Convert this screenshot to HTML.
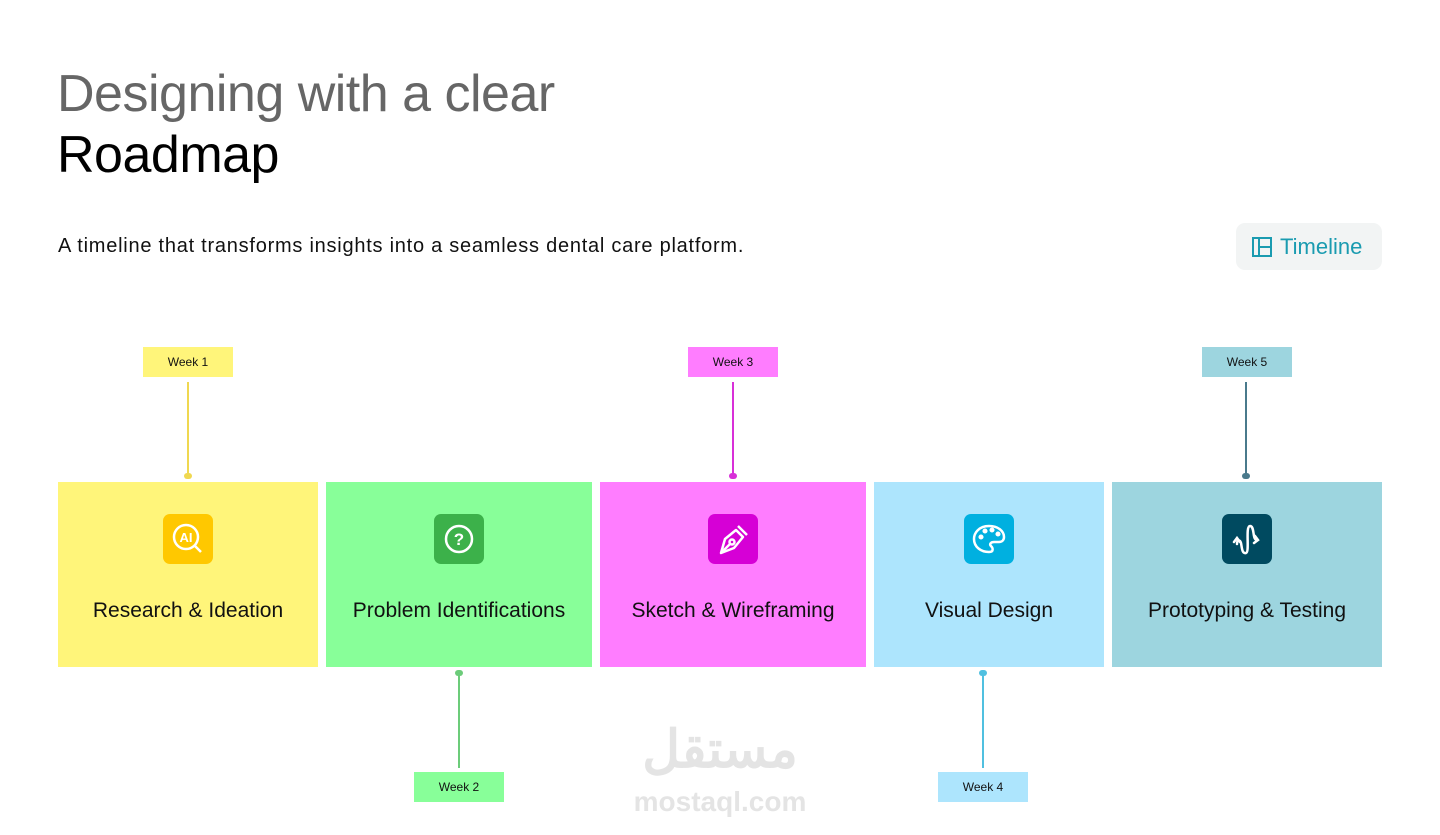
<!DOCTYPE html>
<html><head><meta charset="utf-8"><style>
*{margin:0;padding:0;box-sizing:border-box}
body{width:1440px;height:835px;background:#fff;position:relative;overflow:hidden;font-family:"Liberation Sans",sans-serif}
.a{position:absolute}
.h1{left:57px;top:64px;font-size:52px;color:#666;letter-spacing:-0.5px;white-space:nowrap}
.h2{left:57px;top:125px;font-size:52px;color:#000;letter-spacing:-0.5px}
.sub{left:58px;top:235px;font-size:20px;letter-spacing:0.75px;color:#111;white-space:nowrap}
.btn{left:1236px;top:223px;width:146px;height:47px;background:#f2f4f4;border-radius:9px;color:#1a9bb0;font-size:22px;line-height:47px;padding-left:44px}
.btn svg{position:absolute;left:16px;top:14px}
.box{top:482px;height:185px}
.ic{position:absolute;top:32px;width:50px;height:50px;border-radius:7px;left:50%;margin-left:-25px}
.ic svg{position:absolute;left:0;top:0}
.lb{position:absolute;top:117px;width:100%;text-align:center;font-size:21px;color:#111;white-space:nowrap}
.wk{width:90px;height:30px;font-size:12px;text-align:center;line-height:30px;color:#111}
.ln{width:2px}
.dot{width:8px;height:6px;border-radius:4px}
</style></head><body>
<div class="a h1">Designing with a clear</div>
<div class="a h2">Roadmap</div>
<div class="a sub">A timeline that transforms insights into a seamless dental care platform.</div>
<div class="a btn"><svg width="20" height="20" viewBox="0 0 20 20" fill="none" stroke="#1a9bb0" stroke-width="2"><rect x="1" y="1" width="18" height="18"/><line x1="7" y1="1" x2="7" y2="19"/><line x1="7" y1="10" x2="19" y2="10"/></svg>Timeline</div>

<div class="a box" style="left:58px;width:260px;background:#fff57a">
 <div class="ic" style="background:#ffc800"><svg width="50" height="50" fill="none" stroke="#fff" stroke-width="2.5"><circle cx="23" cy="23" r="12"/><line x1="31" y1="31" x2="38" y2="38"/><text x="23" y="28" font-size="13" font-weight="bold" fill="#fff" stroke="none" text-anchor="middle" font-family="Liberation Sans">AI</text></svg></div>
 <div class="lb">Research &amp; Ideation</div></div>
<div class="a box" style="left:326px;width:266px;background:#88ff99">
 <div class="ic" style="background:#3cb14a"><svg width="50" height="50" fill="none" stroke="#fff" stroke-width="2.5"><circle cx="25" cy="25" r="13"/><text x="25" y="31" font-size="17" font-weight="bold" fill="#fff" stroke="none" text-anchor="middle" font-family="Liberation Sans">?</text></svg></div>
 <div class="lb">Problem Identifications</div></div>
<div class="a box" style="left:600px;width:266px;background:#ff7dff">
 <div class="ic" style="background:#d600d6"><svg width="50" height="50" fill="none" stroke="#fff" stroke-width="2.5" stroke-linejoin="round"><path d="M13 39 L17 25 L28 16 L35 23 L26 34 Z"/><line x1="30" y1="12" x2="39" y2="21"/><circle cx="24" cy="28" r="2.5"/><line x1="13" y1="39" x2="22" y2="30"/></svg></div>
 <div class="lb">Sketch &amp; Wireframing</div></div>
<div class="a box" style="left:874px;width:230px;background:#ade5fd">
 <div class="ic" style="background:#00b0e0"><svg width="50" height="50" fill="none" stroke="#fff" stroke-width="2.5"><path d="M25 12 C15 12 10 19 10 25 C10 33 17 38 25 38 C30 38 29 34 27 32 C25 30 27 28 30 28 L35 28 C38 28 40 26 40 23 C40 17 34 12 25 12 Z"/><circle cx="17" cy="23" r="1.3" fill="#fff"/><circle cx="21" cy="17" r="1.3" fill="#fff"/><circle cx="28" cy="16" r="1.3" fill="#fff"/><circle cx="34" cy="20" r="1.3" fill="#fff"/></svg></div>
 <div class="lb">Visual Design</div></div>
<div class="a box" style="left:1112px;width:270px;background:#9dd5df">
 <div class="ic" style="background:#004a60"><svg width="50" height="50" fill="none" stroke="#fff" stroke-width="2.5" stroke-linecap="round"><path d="M15 30 C15 26 18 25 19 29 C20 34 20 40 24 39 C28 38 23 12 28 12 C33 12 30 26 35 26"/><path d="M12 28 L15 24 L18 28"/><path d="M33 22 L36 26 L32 29"/></svg></div>
 <div class="lb">Prototyping &amp; Testing</div></div>

<div class="a wk" style="left:143px;top:347px;background:#fff57a">Week 1</div>
<div class="a wk" style="left:688px;top:347px;background:#ff7dff">Week 3</div>
<div class="a wk" style="left:1202px;top:347px;background:#9dd5df">Week 5</div>
<div class="a wk" style="left:414px;top:772px;background:#88ff99">Week 2</div>
<div class="a wk" style="left:938px;top:772px;background:#ade5fd">Week 4</div>

<div class="a ln" style="left:187px;top:382px;height:94px;background:#f0d850"></div>
<div class="a dot" style="left:184px;top:473px;background:#f0d850"></div>
<div class="a ln" style="left:732px;top:382px;height:94px;background:#d830d8"></div>
<div class="a dot" style="left:729px;top:473px;background:#d830d8"></div>
<div class="a ln" style="left:1245px;top:382px;height:94px;background:#4a7a8c"></div>
<div class="a dot" style="left:1242px;top:473px;background:#4a7a8c"></div>
<div class="a ln" style="left:458px;top:672px;height:96px;background:#6ccc7a"></div>
<div class="a dot" style="left:455px;top:670px;background:#6ccc7a"></div>
<div class="a ln" style="left:982px;top:672px;height:96px;background:#50c0e0"></div>
<div class="a dot" style="left:979px;top:670px;background:#50c0e0"></div>

<div class="a" style="left:632px;top:722px;width:176px;text-align:center;font-family:'Liberation Sans','Noto Sans CJK SC',sans-serif;font-size:52px;font-weight:bold;color:#e4e4e4;line-height:56px">مستقل</div>
<div class="a" style="left:632px;top:786px;width:176px;text-align:center;font-size:28px;font-weight:bold;color:#e4e4e4">mostaql.com</div>
</body></html>
